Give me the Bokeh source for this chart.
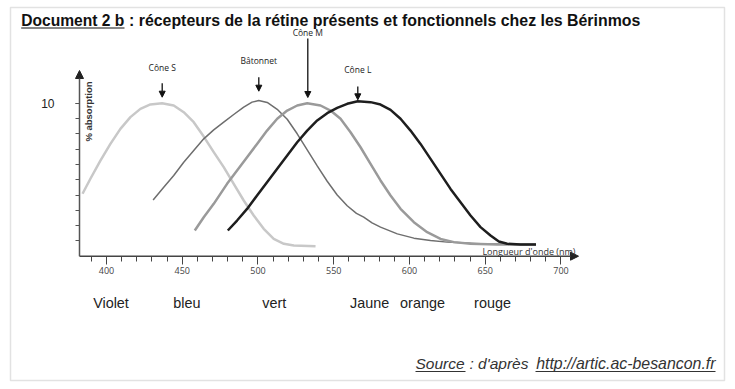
from bokeh.plotting import figure
from bokeh.models import Range1d, FixedTicker, Arrow, NormalHead, Label, BoxAnnotation
from bokeh.embed import file_html
from bokeh.resources import INLINE

# ---------------- data ----------------
cone_s_nm = [384.2, 389.4, 396.0, 402.6, 409.2, 415.8, 422.4, 429.0, 436.7, 444.4, 451.0,
             457.6, 464.2, 470.8, 477.4, 484.0, 490.6, 497.2, 503.8, 510.4, 517.1, 523.7, 538.0]
cone_s_abs = [4.08, 5.06, 6.25, 7.34, 8.32, 9.09, 9.63, 9.92, 10.0, 9.85, 9.41,
              8.76, 7.82, 6.80, 5.82, 4.73, 3.64, 2.66, 1.79, 1.13, 0.81, 0.70, 0.65]

bat_nm = [430.8, 437.8, 444.4, 451.0, 457.6, 464.2, 470.8, 477.4, 484.0, 490.6, 496.1, 500.5,
          506.1, 512.7, 519.3, 525.9, 532.5, 539.1, 545.7, 552.3, 558.9, 565.0, 569.8, 575.3,
          580.9, 592.0, 602.9, 613.9, 624.9, 646.9, 668.9, 683.5]
bat_abs = [3.68, 4.51, 5.27, 6.14, 6.91, 7.67, 8.26, 8.76, 9.26, 9.74, 10.07, 10.17,
           10.05, 9.60, 8.95, 8.00, 6.95, 5.90, 4.90, 4.00, 3.30, 2.80, 2.55, 2.18,
           1.90, 1.46, 1.18, 1.03, 0.92, 0.81, 0.77, 0.77]

cone_m_nm = [458.3, 464.2, 470.8, 479.6, 486.2, 492.8, 499.4, 506.0, 512.7, 519.3, 525.9, 532.5,
             541.3, 547.9, 554.5, 561.1, 567.7, 574.3, 580.9, 587.5, 594.1, 602.9, 611.7, 620.5,
             629.3, 640.3, 657.9, 683.5]
cone_m_abs = [1.68, 2.55, 3.42, 4.73, 5.60, 6.47, 7.34, 8.21, 8.98, 9.52, 9.85, 10.0,
              9.85, 9.52, 8.98, 8.10, 7.12, 6.03, 4.95, 3.97, 3.10, 2.22, 1.57, 1.13,
              0.92, 0.81, 0.77, 0.77]

cone_l_nm = [480.1, 486.2, 492.8, 499.4, 506.0, 512.7, 519.3, 525.9, 532.5, 539.1, 545.7, 552.3,
             558.9, 565.9, 574.3, 580.9, 587.5, 594.1, 600.7, 607.3, 613.9, 620.5, 627.1, 633.7,
             640.3, 646.9, 653.5, 659.0, 664.5, 673.3, 683.5]
cone_l_abs = [1.68, 2.33, 3.09, 3.97, 4.84, 5.71, 6.58, 7.45, 8.21, 8.87, 9.35, 9.69,
              9.96, 10.13, 10.07, 9.91, 9.56, 8.98, 8.21, 7.34, 6.36, 5.38, 4.40, 3.53,
              2.66, 1.90, 1.35, 0.96, 0.81, 0.77, 0.77]

x_major_ticks = [400, 450, 500, 550, 600, 650, 700]
x_minor_ticks = [390, 400, 410, 420, 430, 440, 450, 460, 470, 480, 490, 500, 510, 520, 530,
                 540, 550, 560, 570, 580, 590, 600, 610, 620, 630, 640, 650, 660, 670, 680,
                 690, 700]
y_major_ticks = [10]
y_minor_ticks = [1, 2, 3, 4, 5, 6, 7, 8, 9, 10]

receptor_names = ["Cône S", "Bâtonnet", "Cône M", "Cône L"]
colour_names = ["Violet", "bleu", "vert", "Jaune", "orange", "rouge"]

title_part1 = "Document 2 b"
title_part2 = ": récepteurs de la rétine présents et fonctionnels chez les Bérinmos"
x_title = "Longueur d'onde (nm)"
y_title = "% absorption"
source_part1 = "Source"
source_part2 = ": d'après"
source_part3 = "http://artic.ac-besancon.fr"

# ---------------- layout ----------------
W, H = 727, 382
PX_PER_NM = 1.515
PX_PER_UNIT = 15.3
X0 = 382.2          # wavelength at the y axis
AXIS_X_PX = 79      # canvas x of the y axis
AXIS_Y_PX = 255.7   # canvas y of the x axis


def X(px):
    return X0 + (px - AXIS_X_PX) / PX_PER_NM


def Y(py):
    return (AXIS_Y_PX - py) / PX_PER_UNIT


p = figure(width=W, height=H, output_backend="svg", toolbar_location=None,
           x_range=Range1d(X(0), X(W)), y_range=Range1d(Y(H), Y(0)),
           min_border=0, min_border_left=0, min_border_right=0,
           min_border_top=0, min_border_bottom=0)
p.grid.visible = False
p.outline_line_color = None
p.background_fill_color = "white"
p.border_fill_color = "white"

# x axis (placed on the data line y = 0)
xa = p.xaxis[0]
xa.fixed_location = 0
xa.ticker = FixedTicker(ticks=x_major_ticks, minor_ticks=x_minor_ticks)
xa.axis_line_color = None
xa.major_tick_in = 0
xa.major_tick_out = 8
xa.minor_tick_in = 0
xa.minor_tick_out = 5
xa.major_tick_line_color = "#444444"
xa.minor_tick_line_color = "#444444"
xa.major_label_text_font = "Open Sans"
xa.major_label_text_font_size = "9px"
xa.major_label_text_color = "#444444"
xa.major_label_standoff = 3

# y axis (placed on the data line x = X0)
ya = p.yaxis[0]
ya.fixed_location = X0
ya.ticker = FixedTicker(ticks=y_major_ticks, minor_ticks=y_minor_ticks)
ya.axis_line_color = None
ya.major_tick_in = 0
ya.major_tick_out = 4
ya.minor_tick_in = 0
ya.minor_tick_out = 4
ya.major_tick_line_color = "#555555"
ya.minor_tick_line_color = "#555555"
ya.major_label_text_font = "Liberation Sans"
ya.major_label_text_font_size = "12px"
ya.major_label_text_color = "#222222"
ya.major_label_standoff = 21

# axis lines with arrow heads
p.add_layout(Arrow(x_start=X0, y_start=0, x_end=X(578), y_end=0,
                   line_color="#444444", line_width=1.5,
                   end=NormalHead(size=8, fill_color="#222222", line_color="#222222")))
p.add_layout(Arrow(x_start=X0, y_start=0, x_end=X0, y_end=Y(70),
                   line_color="#555555", line_width=1.5,
                   end=NormalHead(size=8, fill_color="#222222", line_color="#222222")))

# curves
p.line(cone_s_nm, cone_s_abs, line_color="#c8c8c8", line_width=2.5, line_join="round")
p.line(bat_nm, bat_abs, line_color="#6e6e6e", line_width=1.5, line_join="round")
p.line(cone_m_nm, cone_m_abs, line_color="#9a9a9a", line_width=2.5, line_join="round")
p.line(cone_l_nm, cone_l_abs, line_color="#1e1e1e", line_width=2.5, line_join="round")

# receptor labels and arrows
lab_pos = [(161.7, 66.7, 82.7, 96.7), (258.3, 60, 76.7, 90.7),
           (307.3, 32, 38, 97), (357.3, 69, 86, 99.3)]
for name, (px, ly, a0, a1) in zip(receptor_names, lab_pos):
    p.add_layout(Label(x=X(px), y=Y(ly), text=name, text_font="Open Sans",
                       text_font_size="8.5px", text_color="#222222",
                       text_align="center", text_baseline="middle"))
    p.add_layout(Arrow(x_start=X(px), y_start=Y(a0), x_end=X(px), y_end=Y(a1),
                       line_color="#111111", line_width=1.3,
                       end=NormalHead(size=6, fill_color="#111111", line_color="#111111")))

# axis titles
p.add_layout(Label(x=X(88.3), y=Y(111), text=y_title, angle=1.5708,
                   text_font="Liberation Sans", text_font_style="bold",
                   text_font_size="9.5px", text_color="#333333",
                   text_align="center", text_baseline="middle"))
p.add_layout(Label(x=X(575), y=Y(250.5), text=x_title, text_font="Open Sans",
                   text_font_size="9px", text_color="#333333",
                   text_align="right", text_baseline="middle"))

# colour names
colour_px = [110.5, 186.3, 273.7, 369.2, 422.0, 492.0]
for name, px in zip(colour_names, colour_px):
    p.add_layout(Label(x=X(px), y=Y(302), text=name, text_font="Liberation Sans",
                       text_font_size="14.4px", text_color="#222222",
                       text_align="center", text_baseline="middle"))

# title
p.add_layout(Label(x=X(20.7), y=Y(20), text=title_part1, text_font="Liberation Sans",
                   text_font_style="bold", text_font_size="15.6px", text_color="#111111",
                   text_align="left", text_baseline="middle"))
p.add_layout(Label(x=X(128.5), y=Y(20), text=title_part2, text_font="Liberation Sans",
                   text_font_style="bold", text_font_size="15.9px", text_color="#111111",
                   text_align="left", text_baseline="middle"))
p.add_layout(Arrow(x_start=X(20.7), y_start=Y(27.5), x_end=X(124), y_end=Y(27.5),
                   end=None, line_color="#111111", line_width=1.2))

# source
p.add_layout(Label(x=X(415), y=Y(363.3), text=source_part1, text_font="Liberation Sans",
                   text_font_style="italic", text_font_size="15.5px", text_color="#333333",
                   text_align="left", text_baseline="middle"))
p.add_layout(Label(x=X(469), y=Y(363.3), text=source_part2, text_font="Liberation Sans",
                   text_font_style="italic", text_font_size="15.5px", text_color="#333333",
                   text_align="left", text_baseline="middle"))
p.add_layout(Label(x=X(715), y=Y(363.3), text=source_part3,
                   text_font="Liberation Sans", text_font_style="italic",
                   text_font_size="15.9px", text_color="#333333",
                   text_align="right", text_baseline="middle"))
p.add_layout(Arrow(x_start=X(415), y_start=Y(371), x_end=X(465), y_end=Y(371),
                   end=None, line_color="#333333", line_width=1))
p.add_layout(Arrow(x_start=X(535), y_start=Y(371), x_end=X(715), y_end=Y(371),
                   end=None, line_color="#333333", line_width=1))

# outer frame
p.add_layout(BoxAnnotation(left=X(10), right=X(724), top=Y(7), bottom=Y(380),
                           fill_alpha=0, line_color="#a0a0a0", line_width=1.5))

open("out.html", "w").write(file_html(p, INLINE))
